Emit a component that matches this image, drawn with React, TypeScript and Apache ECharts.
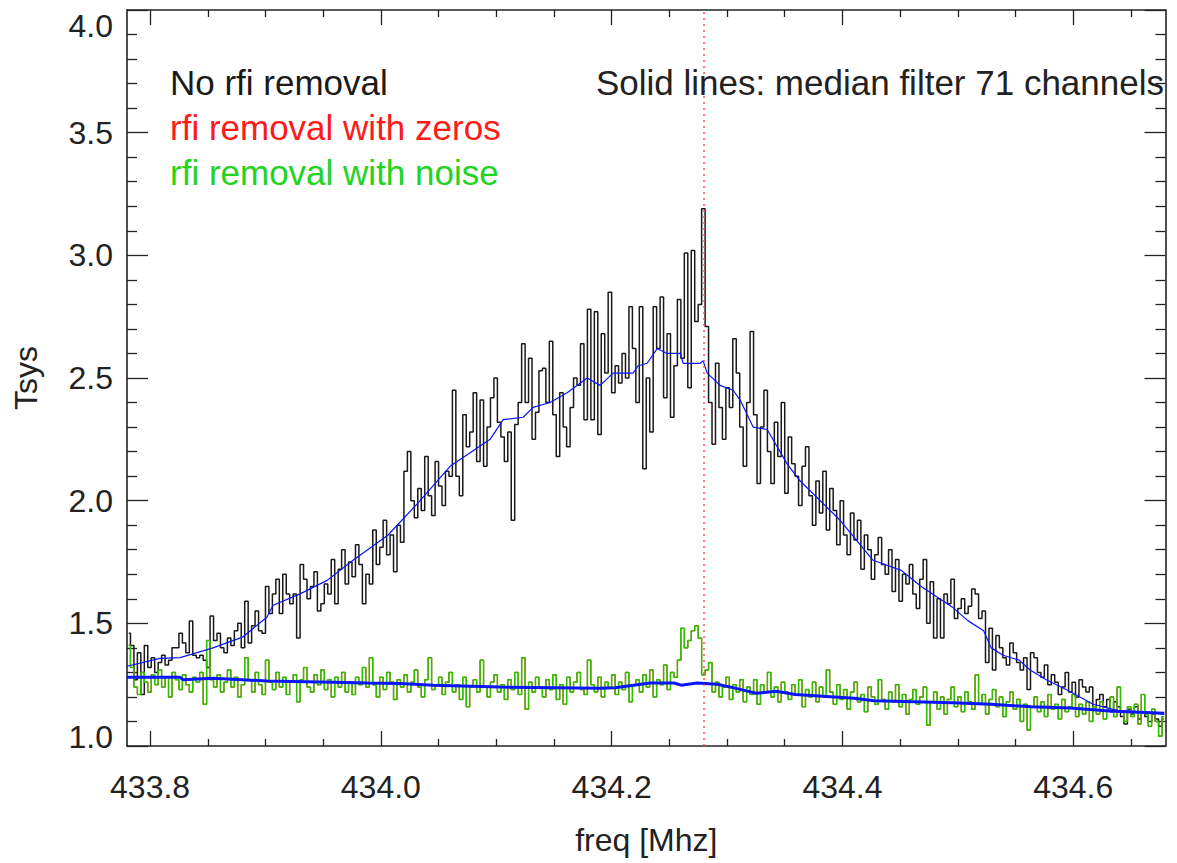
import React, { useEffect, useRef } from "react";
import * as echarts from "echarts";

// ---------- data ----------
const CHANNEL_START = 433.7815; // MHz, centre of first channel
const CHANNEL_WIDTH = 0.003; // MHz

// Tsys, no rfi removal (black histogram), 300 channels
const NO_RFI_REMOVAL = [
  1.46, 1.41, 1.27, 1.38, 1.21, 1.41, 1.32, 1.36, 1.30, 1.34,
  1.37, 1.33, 1.35, 1.40, 1.40, 1.46, 1.42, 1.38, 1.51, 1.37,
  1.36, 1.37, 1.35, 1.32, 1.53, 1.43, 1.46, 1.40, 1.38, 1.44,
  1.41, 1.47, 1.50, 1.40, 1.59, 1.42, 1.49, 1.55, 1.47, 1.46,
  1.65, 1.54, 1.62, 1.68, 1.54, 1.70, 1.62, 1.58, 1.62, 1.44,
  1.74, 1.68, 1.60, 1.65, 1.71, 1.55, 1.58, 1.66, 1.62, 1.76,
  1.58, 1.72, 1.80, 1.66, 1.75, 1.69, 1.82, 1.74, 1.58, 1.70,
  1.66, 1.88, 1.74, 1.81, 1.92, 1.78, 1.86, 1.71, 1.90, 1.83,
  2.12, 2.20, 2.00, 1.93, 2.05, 1.96, 2.18, 2.02, 1.94, 2.16,
  2.06, 1.98, 2.12, 2.10, 2.45, 2.10, 2.02, 2.35, 2.22, 2.28,
  2.44, 2.16, 2.41, 2.14, 2.30, 2.42, 2.50, 2.32, 2.26, 2.16,
  2.28, 1.92, 2.31, 2.40, 2.64, 2.40, 2.58, 2.25, 2.36, 2.53,
  2.54, 2.40, 2.65, 2.35, 2.18, 2.44, 2.30, 2.22, 2.38, 2.50,
  2.47, 2.64, 2.33, 2.78, 2.33, 2.77, 2.27, 2.68, 2.52, 2.85,
  2.44, 2.55, 2.48, 2.60, 2.50, 2.79, 2.62, 2.40, 2.79, 2.13,
  2.50, 2.28, 2.79, 2.62, 2.83, 2.42, 2.68, 2.34, 2.55, 2.82,
  2.58, 3.01, 2.46, 3.02, 2.73, 2.80, 3.19, 2.71, 2.40, 2.23,
  2.56, 2.38, 2.25, 2.46, 2.38, 2.66, 2.52, 2.30, 2.14, 2.40,
  2.69, 2.35, 2.07, 2.30, 2.45, 2.20, 2.07, 2.32, 2.18, 2.40,
  2.03, 2.26, 2.15, 2.10, 1.98, 2.14, 2.22, 2.02, 1.90, 2.08,
  1.95, 2.12, 1.88, 2.05, 1.96, 1.82, 2.00, 1.86, 1.78, 1.95,
  1.84, 1.92, 1.72, 1.86, 1.80, 1.68, 1.78, 1.85, 1.74, 1.70,
  1.80, 1.63, 1.76, 1.59, 1.70, 1.66, 1.74, 1.62, 1.56, 1.68,
  1.76, 1.50, 1.67, 1.44, 1.60, 1.44, 1.62, 1.58, 1.68, 1.52,
  1.56, 1.60, 1.54, 1.57, 1.64, 1.62, 1.52, 1.55, 1.34, 1.48,
  1.31, 1.45, 1.40, 1.36, 1.33, 1.42, 1.38, 1.34, 1.31, 1.36,
  1.23, 1.38, 1.36, 1.30, 1.28, 1.33, 1.25, 1.29, 1.26, 1.21,
  1.24, 1.30, 1.22, 1.26, 1.20, 1.27, 1.24, 1.22, 1.24, 1.15,
  1.19, 1.21, 1.16, 1.19, 1.14, 1.18, 1.16, 1.12, 1.09, 1.15,
  1.13, 1.16, 1.11, 1.14, 1.12, 1.10, 1.13, 1.11, 1.08, 1.11,
];

// Tsys, rfi removal with noise (green histogram)
const RFI_NOISE = [
  1.41, 1.32, 1.24, 1.21, 1.30, 1.26, 1.22, 1.29, 1.25, 1.31,
  1.24, 1.28, 1.20, 1.30, 1.27, 1.23, 1.29, 1.25, 1.22, 1.28,
  1.26, 1.30, 1.17, 1.43, 1.27, 1.24, 1.29, 1.22, 1.26, 1.31,
  1.24, 1.28, 1.20, 1.25, 1.36, 1.27, 1.22, 1.30, 1.25, 1.21,
  1.35, 1.26, 1.23, 1.30, 1.24, 1.28, 1.21, 1.26, 1.29, 1.18,
  1.27, 1.32, 1.24, 1.22, 1.29, 1.25, 1.31, 1.23, 1.27, 1.20,
  1.28, 1.24, 1.30, 1.22, 1.26, 1.21, 1.28, 1.25, 1.32, 1.24,
  1.36, 1.25, 1.20, 1.28, 1.23, 1.30, 1.26, 1.19, 1.27, 1.24,
  1.29, 1.22, 1.26, 1.31, 1.24, 1.20, 1.27, 1.36, 1.23, 1.25,
  1.28, 1.21, 1.26, 1.30, 1.22, 1.25, 1.19, 1.28, 1.16, 1.24,
  1.27, 1.22, 1.35, 1.24, 1.20, 1.26, 1.29, 1.22, 1.25, 1.19,
  1.27, 1.23, 1.30, 1.21, 1.36, 1.15, 1.26, 1.22, 1.28, 1.24,
  1.20, 1.27, 1.23, 1.29, 1.19, 1.25, 1.17, 1.28, 1.22, 1.26,
  1.30, 1.23, 1.21, 1.35, 1.25, 1.22, 1.28, 1.20, 1.26, 1.24,
  1.29, 1.21, 1.26, 1.23, 1.30, 1.18, 1.25, 1.27, 1.22, 1.29,
  1.24, 1.31, 1.20, 1.27, 1.25, 1.33, 1.23, 1.30, 1.28, 1.35,
  1.48, 1.40, 1.43, 1.47, 1.49, 1.44, 1.29, 1.31, 1.34, 1.22,
  1.26, 1.20, 1.24, 1.28, 1.19, 1.25, 1.22, 1.27, 1.18, 1.24,
  1.21, 1.27, 1.17, 1.25, 1.22, 1.30, 1.20, 1.24, 1.18, 1.26,
  1.22, 1.19, 1.25, 1.21, 1.27, 1.16, 1.23, 1.20, 1.26, 1.18,
  1.24, 1.20, 1.31, 1.22, 1.17, 1.25, 1.19, 1.23, 1.15, 1.22,
  1.26, 1.18, 1.21, 1.14, 1.24, 1.20, 1.17, 1.27, 1.19, 1.15,
  1.22, 1.18, 1.25, 1.16, 1.21, 1.13, 1.19, 1.23, 1.17, 1.20,
  1.24, 1.085, 1.18, 1.22, 1.15, 1.20, 1.13, 1.19, 1.24, 1.16,
  1.20, 1.14, 1.22, 1.18, 1.15, 1.29, 1.17, 1.21, 1.13, 1.19,
  1.23, 1.16, 1.20, 1.12, 1.18, 1.22, 1.15, 1.19, 1.10, 1.17,
  1.065, 1.16, 1.20, 1.14, 1.18, 1.12, 1.21, 1.15, 1.17, 1.11,
  1.19, 1.14, 1.16, 1.21, 1.12, 1.17, 1.13, 1.18, 1.10, 1.16,
  1.13, 1.18, 1.11, 1.15, 1.20, 1.12, 1.24, 1.14, 1.10, 1.16,
  1.12, 1.17, 1.09, 1.21, 1.13, 1.08, 1.15, 1.10, 1.04, 1.12,
];

// rfi removal with zeros (red) lies under the green curve in the picture
const RFI_ZEROS = RFI_NOISE;

// median filter (71 channels) of the black curve
const MEDIAN_RAW_FREQ = [
  433.7798, 433.8087, 433.826, 433.8546, 433.8806, 433.9014, 433.9066, 433.93,
  433.9534, 433.9759, 434.0063, 434.034, 434.06, 434.0947, 434.106, 434.1233,
  434.132, 434.1467, 434.1614, 434.1788, 434.19, 434.2013, 434.2186, 434.223,
  434.2308, 434.2394, 434.2481, 434.2594, 434.262, 434.2767, 434.2793, 434.2828,
  434.294, 434.3053, 434.3114, 434.3226, 434.3348, 434.3521, 434.3634, 434.398,
  434.4266, 434.4509, 434.4683, 434.4951, 434.509, 434.5224, 434.5289, 434.5393,
  434.5532, 434.5627, 434.5766, 434.5939, 434.6173, 434.6381, 434.6789,
];
const MEDIAN_RAW_VAL = [
  1.325, 1.357, 1.36, 1.40, 1.445, 1.526, 1.574, 1.62,
  1.675, 1.757, 1.86, 2.0, 2.14, 2.25, 2.33, 2.34,
  2.38, 2.40, 2.44, 2.50, 2.47, 2.52, 2.52, 2.55,
  2.56, 2.62, 2.60, 2.60, 2.56, 2.56, 2.57, 2.52,
  2.47, 2.45, 2.41, 2.30, 2.29, 2.15, 2.08, 1.92,
  1.757, 1.716, 1.65, 1.567, 1.51, 1.47, 1.40, 1.37,
  1.35, 1.31, 1.27, 1.23, 1.17, 1.145, 1.13,
];

// median filter (71 channels) of the rfi-removed curves
const MEDIAN_CLEAN_FREQ = [
  433.7798, 433.826, 433.8286, 433.8546, 433.9014, 433.9586, 433.9881, 434.0167,
  434.0453, 434.1034, 434.19, 434.203, 434.2334, 434.2542, 434.2602, 434.2741,
  434.2915, 434.3079, 434.3252, 434.3426, 434.359, 434.3933, 434.4102, 434.4275,
  434.4951, 434.5289, 434.5636, 434.5974, 434.6312, 434.6789,
];
const MEDIAN_CLEAN_VAL = [
  1.28, 1.28, 1.27, 1.276, 1.265, 1.26, 1.257, 1.255,
  1.248, 1.24, 1.235, 1.237, 1.257, 1.257, 1.248, 1.257,
  1.252, 1.235, 1.215, 1.223, 1.21, 1.20, 1.195, 1.184,
  1.176, 1.17, 1.16, 1.155, 1.143, 1.133,
];

const RFI_FREQ = 434.28; // red dotted marker

const X_MIN = 433.78;
const X_MAX = 434.68;
const Y_MIN = 1.0;
const Y_MAX = 4.0;
const X_MAJOR = [433.8, 434.0, 434.2, 434.4, 434.6];
const X_MINOR = [433.85, 433.9, 433.95, 434.05, 434.1, 434.15, 434.25, 434.3, 434.35, 434.45, 434.5, 434.55, 434.65];
const Y_MAJOR = [1.0, 1.5, 2.0, 2.5, 3.0, 3.5, 4.0];
const Y_MINOR = [
  1.1, 1.2, 1.3, 1.4, 1.6, 1.7, 1.8, 1.9, 2.1, 2.2, 2.3, 2.4, 2.6, 2.7, 2.8, 2.9,
  3.1, 3.2, 3.3, 3.4, 3.6, 3.7, 3.8, 3.9,
];

const X_TITLE = "freq [Mhz]";
const Y_TITLE = "Tsys";
const LEGEND_LINES = ["No rfi removal", "rfi removal with zeros", "rfi removal with noise"];
const NOTE = "Solid lines: median filter 71 channels";

// ---------- styles ----------
const FONT = '"Liberation Sans", Arial, Helvetica, sans-serif';
const AXIS_COLOR = "#222222";
const TEXT_COLOR = "#222222";
const BLACK = "#1a1a1a";
const RED = "#ff2020";
const GREEN = "#2ec000";
const BLUE = "#0a14ff";

function pairs(xs: number[], ys: number[]) {
  return ys.map((v, i) => [xs[i], v]);
}

export default function App() {
  const ref = useRef<HTMLDivElement>(null);

  useEffect(() => {
    if (!ref.current) return;
    const chart = echarts.init(ref.current, undefined, { renderer: "svg" });

    const freqs = NO_RFI_REMOVAL.map((_, i) => +(CHANNEL_START + i * CHANNEL_WIDTH).toFixed(4));

    const xAxisCommon = (position: string, ticks: number[], len: number, showLine: boolean) => ({
      type: "value",
      position,
      min: X_MIN,
      max: X_MAX,
      axisLine: { show: showLine, onZero: false, lineStyle: { color: AXIS_COLOR, width: 1.6 } },
      axisTick: { show: true, inside: true, length: len, customValues: ticks, lineStyle: { color: AXIS_COLOR, width: 1.3 } },
      axisLabel: { show: false },
      splitLine: { show: false },
    });
    const yAxisCommon = (position: string, ticks: number[], len: number, showLine: boolean) => ({
      type: "value",
      position,
      min: Y_MIN,
      max: Y_MAX,
      axisLine: { show: showLine, onZero: false, lineStyle: { color: AXIS_COLOR, width: 1.6 } },
      axisTick: { show: true, inside: true, length: len, customValues: ticks, lineStyle: { color: AXIS_COLOR, width: 1.3 } },
      axisLabel: { show: false },
      splitLine: { show: false },
    });

    const labelFont = { fontSize: 32, fontFamily: FONT, color: TEXT_COLOR };

    const xMain: any = xAxisCommon("bottom", X_MAJOR, 15, true);
    xMain.axisLabel = {
      show: true,
      customValues: X_MAJOR,
      formatter: (v: number) => v.toFixed(1),
      margin: 25,
      ...labelFont,
    };
    xMain.name = X_TITLE;
    xMain.nameLocation = "middle";
    xMain.nameGap = 78;
    xMain.nameTextStyle = { ...labelFont };

    const yMain: any = yAxisCommon("left", Y_MAJOR, 21, true);
    yMain.axisLabel = {
      show: true,
      customValues: Y_MAJOR,
      margin: 14,
      formatter: (v: number) =>
        v >= Y_MAX - 1e-6 ? "{top|" + v.toFixed(1) + "}" : v <= Y_MIN + 1e-6 ? "{bot|" + v.toFixed(1) + "}" : v.toFixed(1),
      rich: {
        top: { ...labelFont, padding: [32, 0, 0, 0] },
        bot: { ...labelFont, padding: [0, 0, 18, 0] },
      },
      ...labelFont,
    };
    yMain.name = Y_TITLE;
    yMain.nameLocation = "middle";
    yMain.nameRotate = 90;
    yMain.nameGap = 85;
    yMain.nameTextStyle = { ...labelFont };

    const stepLine = (name: string, data: number[], color: string, width: number, z: number) => ({
      name,
      type: "line",
      step: "middle",
      data: pairs(freqs, data),
      showSymbol: false,
      symbol: "none",
      lineStyle: { color, width },
      z,
      silent: true,
    });

    const option: any = {
      animation: false,
      backgroundColor: "#ffffff",
      grid: { left: 127, top: 10, right: 11.5, bottom: 117, containLabel: false, outerBoundsMode: "none" },
      xAxis: [
        xMain,
        xAxisCommon("bottom", X_MINOR, 7, false),
        xAxisCommon("top", X_MAJOR, 15, true),
        xAxisCommon("top", X_MINOR, 7, false),
      ],
      yAxis: [
        yMain,
        yAxisCommon("left", Y_MINOR, 10, false),
        yAxisCommon("right", Y_MAJOR, 21, true),
        yAxisCommon("right", Y_MINOR, 10, false),
      ],
      series: [
        {
          ...stepLine(LEGEND_LINES[0], NO_RFI_REMOVAL, BLACK, 1.5, 3),
          markLine: {
            silent: true,
            symbol: ["none", "none"],
            label: { show: false },
            lineStyle: { color: "#ff5050", type: [2, 4], width: 1.5 },
            data: [{ xAxis: RFI_FREQ }],
            z: 10,
          },
        },
        stepLine(LEGEND_LINES[1], RFI_ZEROS, RED, 1.2, 4),
        stepLine(LEGEND_LINES[2], RFI_NOISE, GREEN, 1.5, 5),
        {
          name: "median no rfi removal",
          type: "line",
          data: pairs(MEDIAN_RAW_FREQ, MEDIAN_RAW_VAL),
          showSymbol: false,
          symbol: "none",
          lineStyle: { color: BLUE, width: 1.2 },
          z: 6,
          silent: true,
        },
        {
          name: "median rfi removed",
          type: "line",
          data: pairs(MEDIAN_CLEAN_FREQ, MEDIAN_CLEAN_VAL),
          showSymbol: false,
          symbol: "none",
          lineStyle: { color: BLUE, width: 3 },
          z: 7,
          silent: true,
        },
      ],
      graphic: [
        {
          type: "text",
          x: 170,
          y: 82,
          z: 20,
          style: { text: LEGEND_LINES[0], fill: BLACK, fontSize: 35, fontFamily: FONT, align: "left", verticalAlign: "middle", textAlign: "left", textVerticalAlign: "middle" },
        },
        {
          type: "text",
          x: 170,
          y: 127,
          z: 20,
          style: { text: LEGEND_LINES[1], fill: "#ff1a1a", fontSize: 35, fontFamily: FONT, align: "left", verticalAlign: "middle", textAlign: "left", textVerticalAlign: "middle" },
        },
        {
          type: "text",
          x: 170,
          y: 172,
          z: 20,
          style: { text: LEGEND_LINES[2], fill: "#22d422", fontSize: 35, fontFamily: FONT, align: "left", verticalAlign: "middle", textAlign: "left", textVerticalAlign: "middle" },
        },
        {
          type: "text",
          x: 1164,
          y: 82,
          z: 20,
          style: { text: NOTE, fill: TEXT_COLOR, fontSize: 35, fontFamily: FONT, align: "right", verticalAlign: "middle", textAlign: "right", textVerticalAlign: "middle" },
        },
      ],
    };

    chart.setOption(option);
    return () => chart.dispose();
  }, []);

  return (
    <div
      ref={ref}
      style={{ position: "fixed", left: 0, top: 0, width: 1177, height: 863, background: "#fff" }}
    />
  );
}
